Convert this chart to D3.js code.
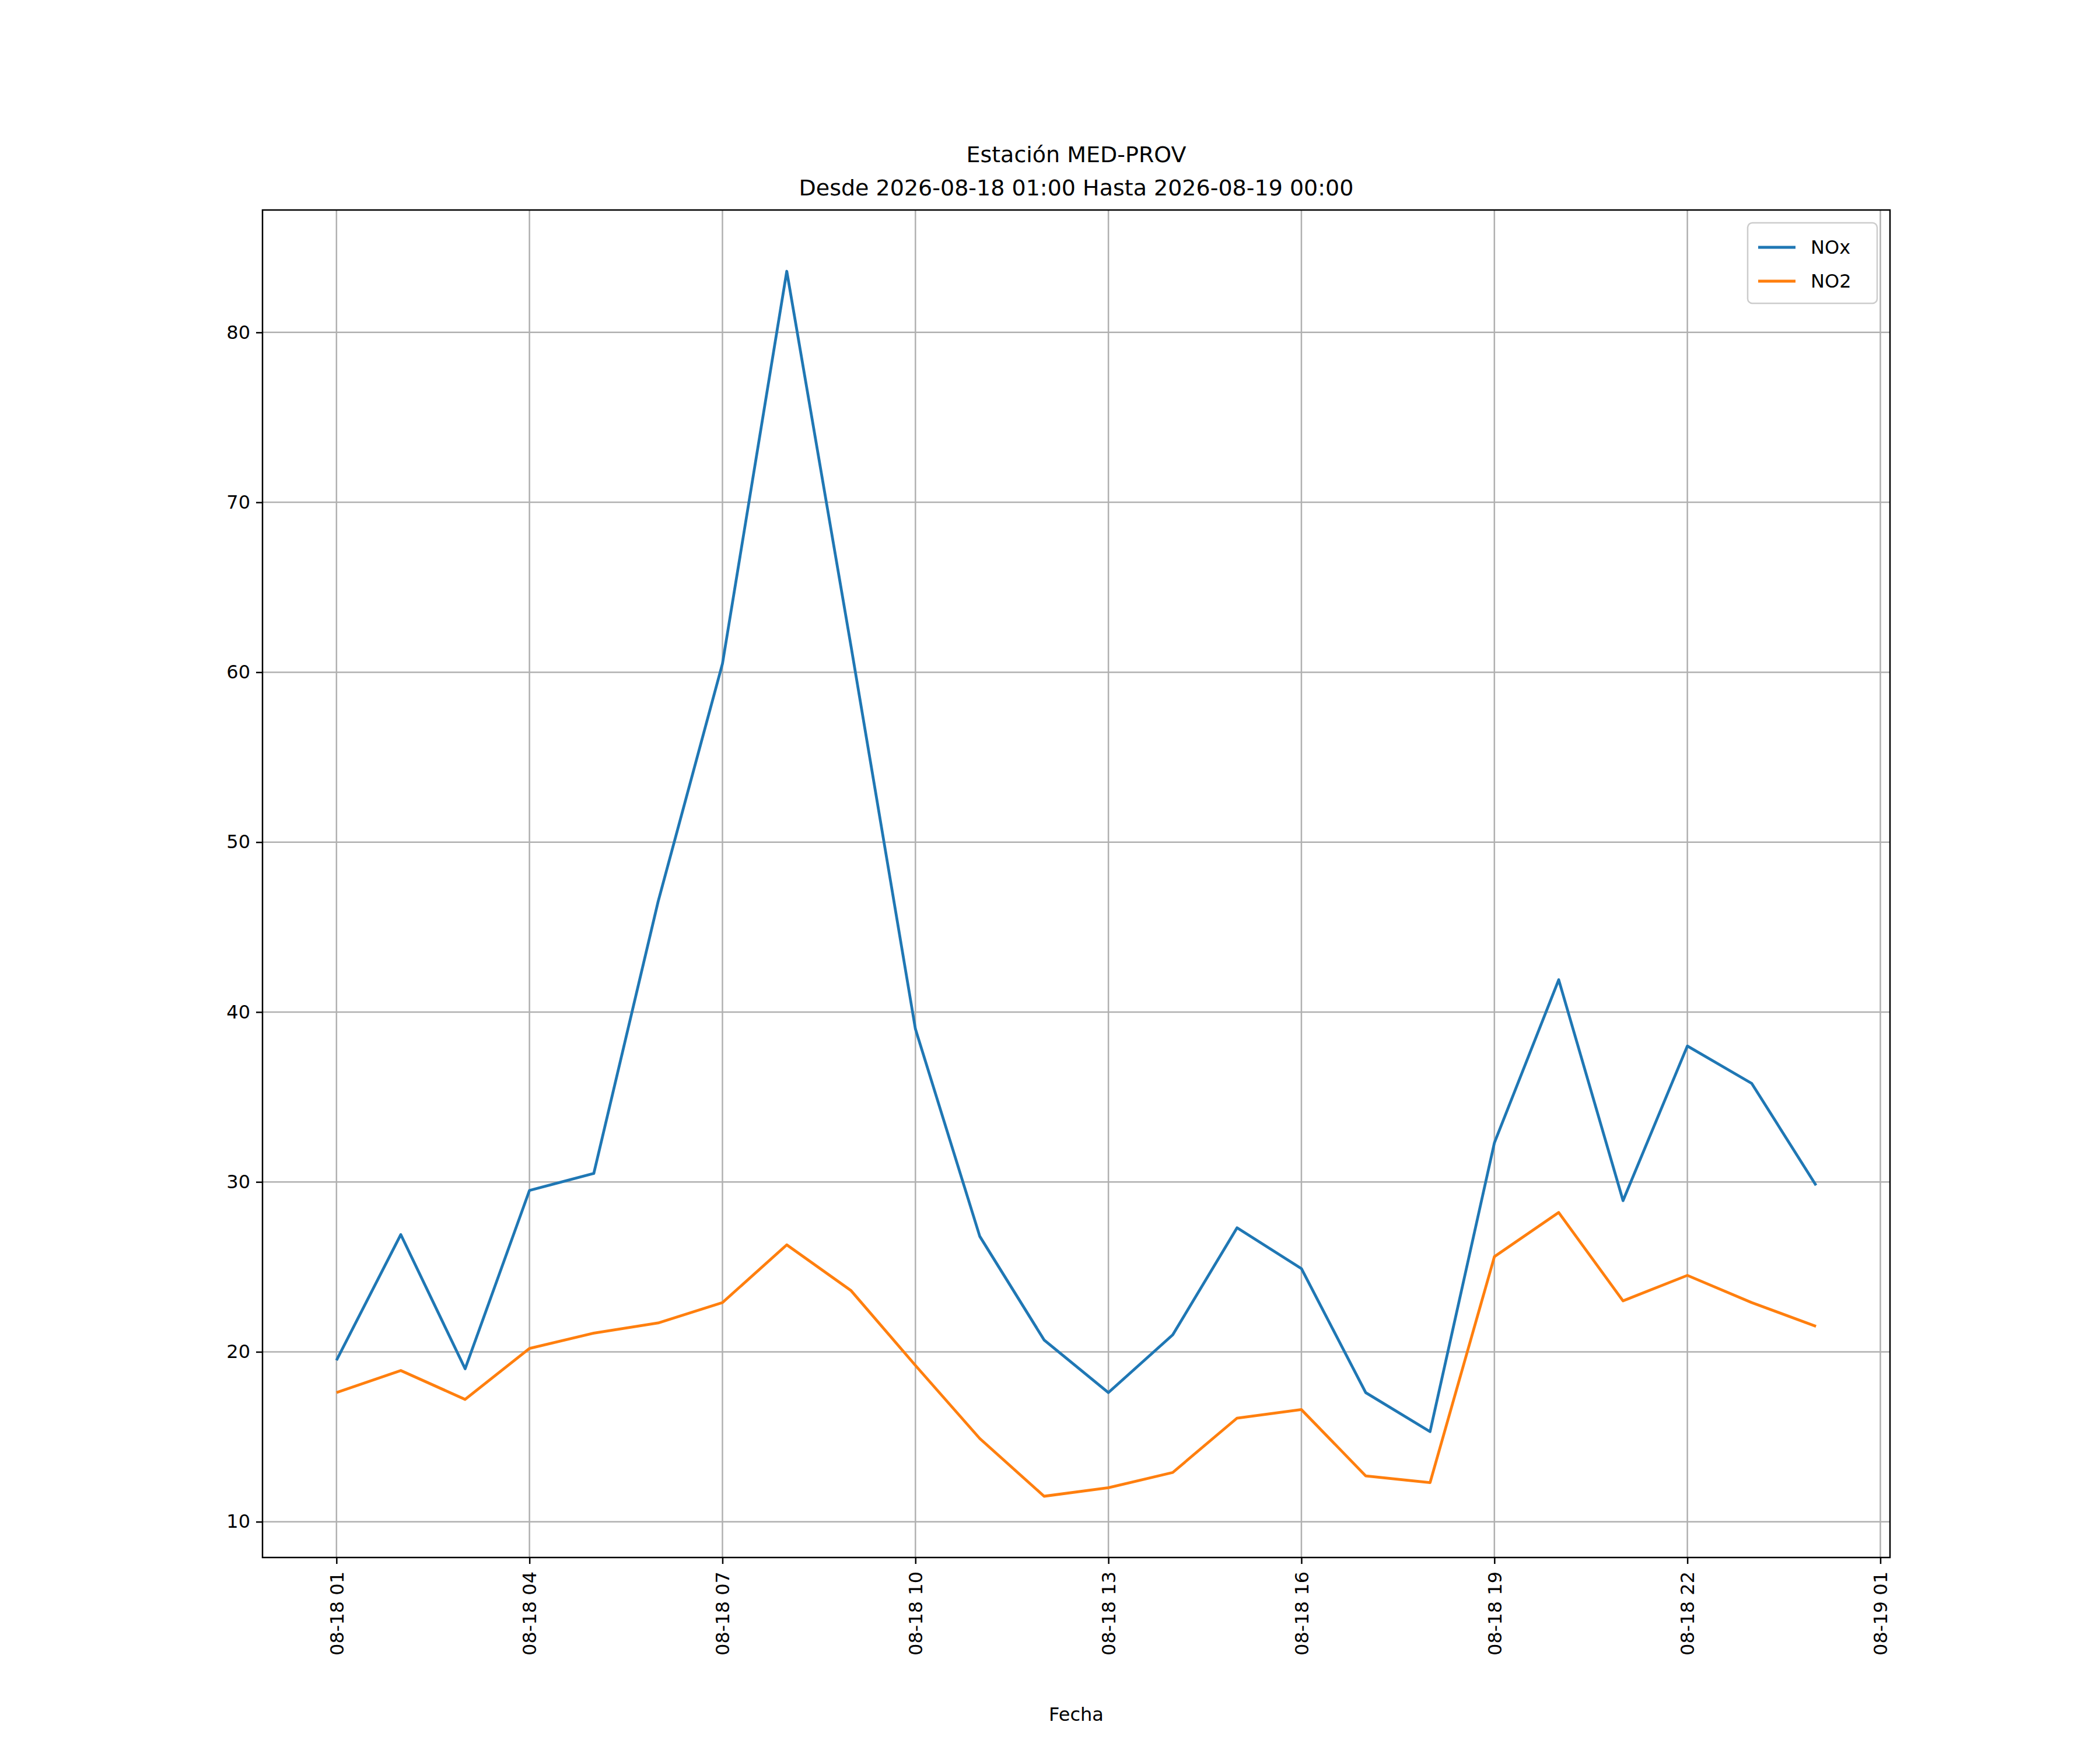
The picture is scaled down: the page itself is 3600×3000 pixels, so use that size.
<!DOCTYPE html>
<html lang="en">
<meta charset="utf-8">
<script src="https://d3js.org/d3.v7.min.js"></script>
<style>
  body { margin: 0; background: #fff; }
  text { font-family: "DejaVu Sans", sans-serif; }
</style>
<svg id="base" width="3600" height="3000"></svg>
<script>
    // hourly values, 2026-08-18 01:00 .. 2026-08-19 00:00
    var hours = d3.range(1, 25);
    var nox = [19.5, 26.9, 19.0, 29.5, 30.5, 46.5, 60.5, 83.6, 61.5, 39.0, 26.8, 20.7,
               17.6, 21.0, 27.3, 24.9, 17.6, 15.3, 32.3, 41.9, 28.9, 38.0, 35.8, 29.8];
    var no2 = [17.6, 18.9, 17.2, 20.2, 21.1, 21.7, 22.9, 26.3, 23.6, 19.2, 14.9, 11.5,
               12.0, 12.9, 16.1, 16.6, 12.7, 12.3, 25.6, 28.2, 23.0, 24.5, 22.9, 21.5];
    var yTicks = [10, 20, 30, 40, 50, 60, 70, 80];
    var seriesNames = ["NOx", "NO2"];
    var colors = ["#1f77b4", "#ff7f0e"];

    var pL = 450, pR = 3240, pT = 360, pB = 2670;
    var svg = d3.select("#base");

    var t = function (h) { return new Date(Date.UTC(2026, 7, 18, 0, h * 60)); };
    var dates = hours.map(t);
    var pad = 23 * 0.05;
    var x = d3.scaleUtc()
        .domain([t(1 - pad), t(24 + pad)])
        .range([pL, pR]);
    var allVals = nox.concat(no2);
    var ymin = d3.min(allVals), ymax = d3.max(allVals), m = (ymax - ymin) * 0.05;
    var y = d3.scaleLinear().domain([ymin - m, ymax + m]).range([pB, pT]);

    var xTicks = d3.range(1, 26, 3).map(t);
    var fmt = d3.utcFormat("%m-%d %H");

    // grid
    svg.append("g").selectAll("line").data(xTicks).enter().append("line")
        .attr("x1", function (d) { return x(d); }).attr("x2", function (d) { return x(d); })
        .attr("y1", pT).attr("y2", pB)
        .attr("stroke", "#b0b0b0").attr("stroke-width", 2.5);
    svg.append("g").selectAll("line").data(yTicks).enter().append("line")
        .attr("y1", function (d) { return y(d); }).attr("y2", function (d) { return y(d); })
        .attr("x1", pL).attr("x2", pR)
        .attr("stroke", "#b0b0b0").attr("stroke-width", 2.5);

    // lines
    var line = d3.line()
        .x(function (d, i) { return x(dates[i]); })
        .y(function (d) { return y(d); });
    [nox, no2].forEach(function (s, i) {
        svg.append("path").datum(s)
            .attr("d", line)
            .attr("fill", "none")
            .attr("stroke", colors[i])
            .attr("stroke-width", 4.8)
            .attr("stroke-linejoin", "round");
    });

    // frame
    svg.append("rect")
        .attr("x", pL).attr("y", pT)
        .attr("width", pR - pL).attr("height", pB - pT)
        .attr("fill", "none").attr("stroke", "#000").attr("stroke-width", 2.5);

    // axes
    var xAxis = svg.append("g")
        .attr("transform", "translate(0," + pB + ")")
        .call(d3.axisBottom(x).tickValues(xTicks).tickFormat(fmt).tickSize(11).tickPadding(10));
    xAxis.select(".domain").remove();
    xAxis.selectAll("line").attr("stroke-width", 2.5);
    xAxis.selectAll("text")
        .style("font-size", "32px")
        .attr("transform", "rotate(-90)")
        .attr("text-anchor", "end")
        .attr("x", -24).attr("y", 0).attr("dy", "0.35em");

    var yAxis = svg.append("g")
        .attr("transform", "translate(" + pL + ",0)")
        .call(d3.axisLeft(y).tickValues(yTicks).tickSize(11).tickPadding(10));
    yAxis.select(".domain").remove();
    yAxis.selectAll("line").attr("stroke-width", 2.5);
    yAxis.selectAll("text").style("font-size", "32px");

    svg.append("text")
        .attr("x", (pL + pR) / 2).attr("y", 2950)
        .attr("text-anchor", "middle")
        .style("font-size", "32px")
        .text("Fecha");

    svg.append("text")
        .attr("x", (pL + pR) / 2).attr("y", 278)
        .attr("text-anchor", "middle").style("font-size", "38px")
        .text("Estación MED-PROV");
    svg.append("text")
        .attr("x", (pL + pR) / 2).attr("y", 335)
        .attr("text-anchor", "middle").style("font-size", "38px")
        .text("Desde 2026-08-18 01:00 Hasta 2026-08-19 00:00");

    // legend
    var lg = svg.append("g").attr("transform", "translate(2996,382)");
    lg.append("rect").attr("width", 222).attr("height", 138).attr("rx", 8)
        .attr("fill", "#fff").attr("fill-opacity", 0.8)
        .attr("stroke", "#ccc").attr("stroke-width", 2.5);
    seriesNames.forEach(function (n, i) {
        var yy = 42 + i * 58;
        lg.append("line").attr("x1", 18).attr("x2", 82).attr("y1", yy).attr("y2", yy)
            .attr("stroke", colors[i]).attr("stroke-width", 4.8);
        lg.append("text").attr("x", 108).attr("y", yy).attr("dy", "0.35em")
            .style("font-size", "32px").text(n);
    });
</script>
</html>
